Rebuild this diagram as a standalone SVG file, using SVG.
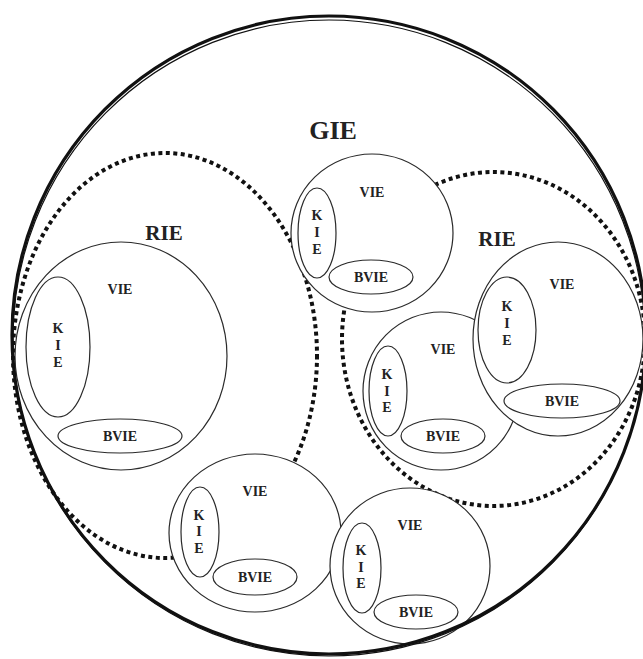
<svg xmlns="http://www.w3.org/2000/svg" width="643" height="659" viewBox="0 0 643 659">
<style>
.bg{fill:#fff}
.vie{fill:#fff;stroke:#2a2a2a;stroke-width:1.2}
.in{fill:none;stroke:#2a2a2a;stroke-width:1.2}
.dot{fill:none;stroke:#111;stroke-width:4;stroke-dasharray:4 3.5}
.outer{fill:none;stroke:#111;stroke-width:3.2}
.outer2{fill:none;stroke:#111;stroke-width:1.2}
text{font-family:"Liberation Serif","Times New Roman",serif;font-weight:bold;fill:#222;text-anchor:middle}
.s{font-size:14px}
.m{font-size:21px}
.l{font-size:26px}
</style>
<rect class="bg" x="0" y="0" width="643" height="659"/>
<g id="connectors">
<ellipse class="dot" cx="165" cy="355.5" rx="152" ry="202.5"/>
<ellipse class="dot" cx="493.5" cy="339" rx="151.5" ry="167"/>
</g>
<g id="gie">
<text class="l" x="333" y="139">GIE</text>
</g>
<g id="rie-left">
<text class="m" x="164" y="240">RIE</text>
</g>
<g id="rie-right">
<text class="m" x="497" y="246">RIE</text>
</g>
<g id="vie-left">
<ellipse class="vie" cx="121" cy="356" rx="106" ry="114"/>
<ellipse class="in" cx="58" cy="347" rx="32" ry="70"/>
<text class="s" x="58" y="333">K</text>
<text class="s" x="58" y="350">I</text>
<text class="s" x="58" y="367">E</text>
<text class="s" x="120" y="294">VIE</text>
<ellipse class="in" cx="120" cy="436" rx="62" ry="17"/>
<text class="s" x="120" y="441">BVIE</text>
</g>
<g id="vie-top">
<ellipse class="vie" cx="372" cy="233" rx="81" ry="79"/>
<ellipse class="in" cx="317" cy="233" rx="19" ry="45"/>
<text class="s" x="317" y="220">K</text>
<text class="s" x="317" y="237">I</text>
<text class="s" x="317" y="254">E</text>
<text class="s" x="372" y="197">VIE</text>
<ellipse class="in" cx="371" cy="277" rx="42" ry="17"/>
<text class="s" x="371" y="282">BVIE</text>
</g>
<g id="vie-mid">
<ellipse class="vie" cx="441" cy="391" rx="78" ry="79"/>
<ellipse class="in" cx="388" cy="391" rx="19" ry="45"/>
<text class="s" x="387" y="379">K</text>
<text class="s" x="387" y="396">I</text>
<text class="s" x="387" y="412">E</text>
<text class="s" x="443" y="354">VIE</text>
<ellipse class="in" cx="443" cy="436" rx="42" ry="17"/>
<text class="s" x="443" y="441">BVIE</text>
</g>
<g id="vie-right">
<ellipse class="vie" cx="558" cy="339" rx="85" ry="97"/>
<ellipse class="in" cx="507" cy="330" rx="29" ry="53"/>
<text class="s" x="507" y="311">K</text>
<text class="s" x="507" y="328">I</text>
<text class="s" x="507" y="345">E</text>
<text class="s" x="562" y="289">VIE</text>
<ellipse class="in" cx="562" cy="401" rx="58" ry="17"/>
<text class="s" x="562" y="406">BVIE</text>
</g>
<g id="vie-bottom-mid">
<ellipse class="vie" cx="255" cy="533" rx="86" ry="79"/>
<ellipse class="in" cx="200" cy="532" rx="19" ry="45"/>
<text class="s" x="199" y="520">K</text>
<text class="s" x="199" y="536">I</text>
<text class="s" x="199" y="553">E</text>
<text class="s" x="255" y="496">VIE</text>
<ellipse class="in" cx="255" cy="577" rx="42" ry="18"/>
<text class="s" x="255" y="582">BVIE</text>
</g>
<g id="vie-bottom-right">
<ellipse class="vie" cx="410" cy="566" rx="80" ry="78"/>
<ellipse class="in" cx="362" cy="568" rx="19" ry="45"/>
<text class="s" x="361" y="555">K</text>
<text class="s" x="361" y="572">I</text>
<text class="s" x="361" y="588">E</text>
<text class="s" x="410" y="530">VIE</text>
<ellipse class="in" cx="416" cy="612" rx="42" ry="17"/>
<text class="s" x="416" y="617">BVIE</text>
</g>
<g id="gie-boundary">
<ellipse class="outer" cx="329" cy="335" rx="317" ry="319"/>
<ellipse class="outer2" cx="329" cy="338" rx="316" ry="318"/>
</g>
</svg>
